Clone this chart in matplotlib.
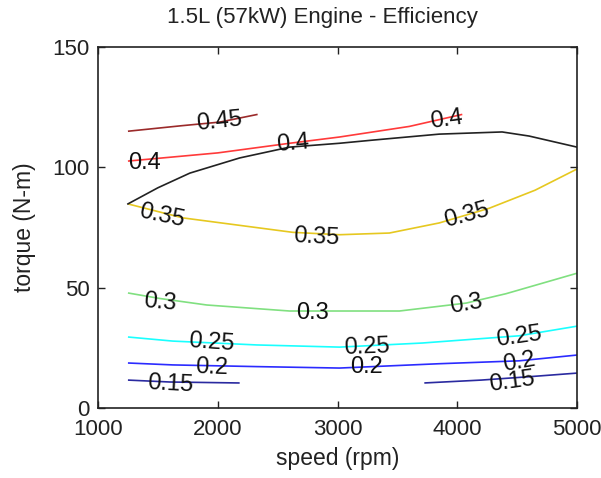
import numpy as np
import matplotlib
matplotlib.use("Agg")
import matplotlib.pyplot as plt

plt.rcParams['font.family'] = ['Liberation Sans', 'DejaVu Sans']

# Max torque curve (black)
max_speed = [1250, 1500, 1767, 2183, 2600, 3017, 3292, 3850, 4375, 4600, 5000]
max_torque = [84.8, 91.5, 97.6, 103.9, 108.4, 110.0, 111.3, 113.8, 114.7, 113.0, 108.4]

# Efficiency contour lines: (level, list of segments of (speeds, torques))
levels = [0.15, 0.2, 0.25, 0.3, 0.35, 0.4, 0.45]
colors = ['#2a2aa0', '#2b2bff', '#1affff', '#80e080', '#e6c820', '#ff3a3a', '#9b2a2a']

eff_015_a_x = [1250, 1600, 2183]
eff_015_a_y = [11.6, 10.8, 10.4]
eff_015_b_x = [3725, 4200, 4600, 5000]
eff_015_b_y = [10.4, 11.6, 13.0, 14.5]
eff_020_x = [1250, 1625, 2325, 3017, 3850, 4517, 5000]
eff_020_y = [18.7, 17.9, 17.2, 16.6, 18.4, 19.6, 22.0]
eff_025_x = [1250, 1625, 2325, 3017, 3708, 4517, 5000]
eff_025_y = [29.5, 27.8, 26.2, 25.3, 27.0, 30.0, 34.0]
eff_030_x = [1250, 1517, 1908, 2600, 3017, 3517, 4075, 4408, 5000]
eff_030_y = [47.8, 45.5, 42.8, 40.3, 40.3, 40.3, 43.6, 47.5, 56.0]
eff_035_x = [1250, 1708, 2625, 3017, 3433, 3850, 4267, 4650, 5000]
eff_035_y = [84.8, 79.0, 73.0, 72.0, 72.7, 76.9, 83.0, 90.5, 99.3]
eff_040_x = [1250, 2000, 2600, 3017, 3600, 4042]
eff_040_y = [102.6, 106.0, 110.0, 112.6, 117.0, 122.0]
eff_045_x = [1250, 1700, 2017, 2333]
eff_045_y = [115.0, 117.3, 118.8, 122.0]

segments = {
    0.15: [(eff_015_a_x, eff_015_a_y), (eff_015_b_x, eff_015_b_y)],
    0.2: [(eff_020_x, eff_020_y)],
    0.25: [(eff_025_x, eff_025_y)],
    0.3: [(eff_030_x, eff_030_y)],
    0.35: [(eff_035_x, eff_035_y)],
    0.4: [(eff_040_x, eff_040_y)],
    0.45: [(eff_045_x, eff_045_y)],
}

# Contour label positions (speed, torque, text)
label_x = [1600, 4460, 1950, 3242, 4517, 1950, 3242, 4517, 1517, 2792, 4075,
           1533, 2825, 4075, 2625, 3908, 1250, 2017]
label_y = [10.0, 11.0, 17.0, 17.0, 19.0, 27.0, 25.3, 29.5, 44.0, 39.5, 43.2,
           80.0, 71.0, 80.0, 110.0, 119.6, 102.0, 118.8]
label_txt = ['0.15', '0.15', '0.2', '0.2', '0.2', '0.25', '0.25', '0.25',
             '0.3', '0.3', '0.3', '0.35', '0.35', '0.35', '0.4', '0.4', '0.4', '0.45']
label_rot = [-3, 8, -2, 0, 10, -4, 2, 8, -5, 0, 10, -12, -3, 15, 5, 8, 0, 6]

fig = plt.figure(figsize=(6.01, 4.78), dpi=100)
ax = fig.add_axes([98/601, 1 - 408/478, (577-98)/601, (408-47)/478])

for lev, col in zip(levels, colors):
    for sx, sy in segments[lev]:
        ax.plot(sx, sy, color=col, lw=1.2, solid_capstyle='butt')
ax.plot(max_speed, max_torque, color='#222222', lw=1.2)

for x, y, t, r in zip(label_x, label_y, label_txt, label_rot):
    ha = 'left' if x <= 1250 else 'center'
    ax.text(x, y, t, fontsize=17, ha=ha, va='center', rotation=r,
            rotation_mode='anchor', color='#111111')

ax.set_xlim(1000, 5000)
ax.set_ylim(0, 150)
ax.set_xticks([1000, 2000, 3000, 4000, 5000])
ax.set_yticks([0, 50, 100, 150])
ax.tick_params(direction='in', length=5, width=1, labelsize=16, top=True, right=True,
               colors='#222222', labelcolor='#222222')
ax.tick_params(axis='x', pad=8)
ax.tick_params(axis='y', pad=6)
for s in ax.spines.values():
    s.set_linewidth(1.2)
    s.set_color('#222222')

ax.set_xlabel('speed (rpm)', fontsize=16.5, color='#222222', labelpad=5)
ax.set_ylabel('torque (N-m)', fontsize=16.5, color='#222222', labelpad=12)
fig.text(322/601, 1 - 18/478, '1.5L (57kW) Engine - Efficiency', fontsize=16,
         ha='center', va='center', color='#222222')

fig.savefig('out.png', dpi=100)
